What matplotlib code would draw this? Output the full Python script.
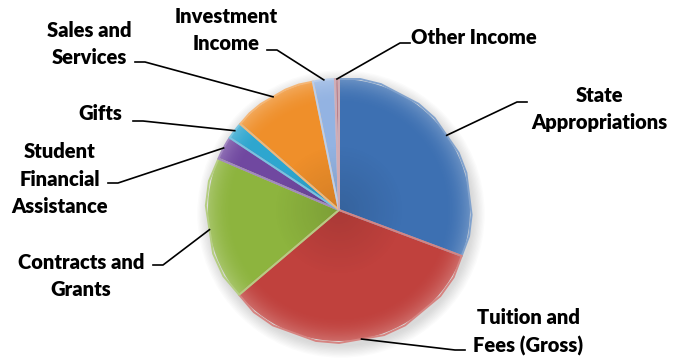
import numpy as np
import matplotlib.pyplot as plt
from matplotlib.colors import to_rgb
from matplotlib.patches import Circle

# revenue shares in percent, clockwise from 12 o'clock
sources = ["State\nAppropriations", "Tuition and\nFees (Gross)", "Contracts and\nGrants",
           "Student\nFinancial\nAssistance", "Gifts", "Sales and\nServices",
           "Investment\nIncome", "Other Income"]
shares = [30.7, 33.1, 17.6, 2.9, 2.1, 10.4, 2.7, 0.5]
colors = ["#3d70b2", "#c0413d", "#8db43e", "#7048a0", "#2ea6cf", "#ef8f2a", "#93b3e2", "#b8808c"]

# label placement (pixels, y up): text position, alignment, end of leader stub, stub direction
label_pos = [(599, 250, "center"), (528, 27, "center"), (81, 83, "center"),
             (60, 180, "center"), (100, 245, "center"), (89, 315, "center"),
             (226, 329, "center"), (411, 321, "left")]
stub_pos = [(517, 257, 1), (455, 9, 1), (163, 94, -1), (118, 176, -1),
            (143, 238, -1), (145, 297, -1), (277, 309, -1), (400, 316, 1)]

plt.rcParams['font.family'] = ['Lato', 'DejaVu Sans']

fig = plt.figure(figsize=(6.73, 3.59), dpi=100)
ax = fig.add_axes([0, 0, 1, 1])

cx, cy, r = 339, 149, 131

# soft drop shadow under the pie
for i in range(10):
    ax.add_patch(Circle((cx + 2, cy - 4), r + 1 + i * 1.3, color="#808080",
                        alpha=0.03, lw=0, zorder=0))

wedges, _ = ax.pie(shares, colors=colors, startangle=90, counterclock=False,
                   center=(cx, cy), radius=r, frame=True,
                   wedgeprops=dict(linewidth=0, zorder=2))

# rim highlight and darker centre, clipped to each slice
n = 400
xs = np.linspace(cx - r, cx + r, n)
ys = np.linspace(cy - r, cy + r, n)
X, Y = np.meshgrid(xs, ys)
rho = np.hypot(X - cx, Y - cy) / r
shade = np.zeros((n, n, 4))
shade[..., :3] = 1.0
shade[..., 3] = np.clip((rho - 0.8) / 0.2, 0, 1) ** 2 * 0.22
dark = np.zeros((n, n, 4))
dark[..., 3] = np.clip((0.5 - rho) / 0.5, 0, 1) * 0.12

for w, c in zip(wedges, colors):
    for img in (shade, dark):
        im = ax.imshow(img, extent=(cx - r, cx + r, cy - r, cy + r), origin="lower",
                       zorder=3, interpolation="bilinear")
        im.set_clip_path(w)
    light = tuple(0.65 * np.array(to_rgb(c)) + 0.35)
    w2 = plt.Polygon(w.get_path().transformed(w.get_patch_transform()).vertices,
                     closed=True, fill=False, edgecolor=light, lw=1.4, zorder=4)
    ax.add_patch(w2)

# labels with leader lines drawn to the middle of each slice
for w, name, (tx, ty, ha), (sx, sy, d) in zip(wedges, sources, label_pos, stub_pos):
    mid = np.deg2rad((w.theta1 + w.theta2) / 2)
    px, py = cx + r * np.cos(mid), cy + r * np.sin(mid)
    ax.plot([px, sx, sx + d * 10], [py, sy, sy], color="black", lw=1.2, zorder=5)
    ax.text(tx, ty, name, ha=ha, va="center", fontsize=14.5, fontweight="heavy",
            linespacing=1.52, color="black")

ax.set_xlim(0, 673)
ax.set_ylim(0, 359)
ax.set_aspect("auto")
ax.axis("off")

fig.savefig("out.png", dpi=100, facecolor="white")
